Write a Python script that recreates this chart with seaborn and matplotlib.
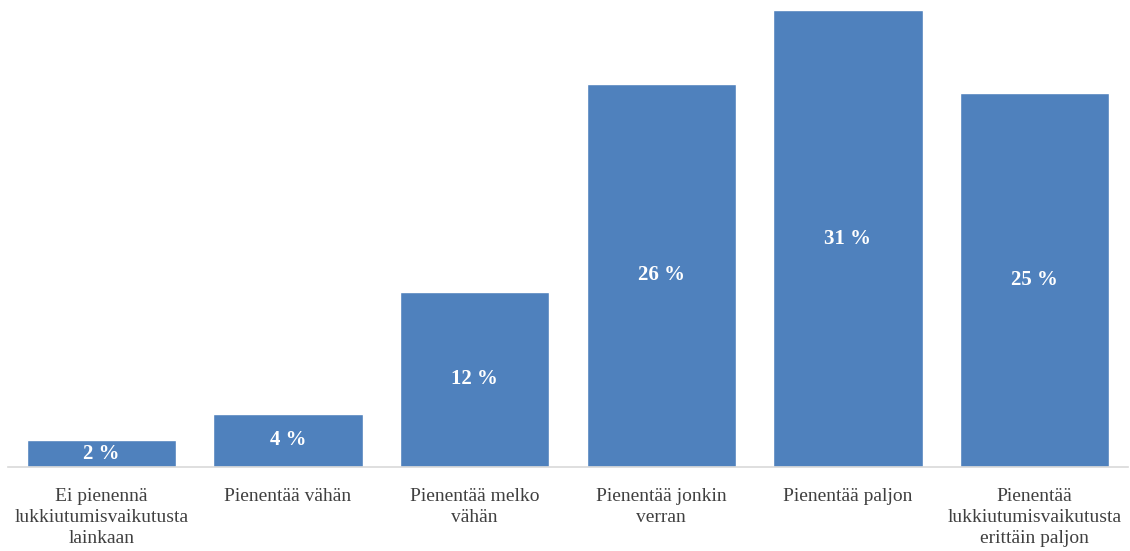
import matplotlib
matplotlib.use("Agg")
import matplotlib.pyplot as plt
import seaborn as sns
import pandas as pd

categories = [
    "Ei pienennä\nlukkiutumisvaikutusta\nlainkaan",
    "Pienentää vähän",
    "Pienentää melko\nvähän",
    "Pienentää jonkin\nverran",
    "Pienentää paljon",
    "Pienentää\nlukkiutumisvaikutusta\nerittäin paljon",
]
values = [1.8, 3.6, 11.9, 26.0, 31.0, 25.4]
labels = ["2 %", "4 %", "12 %", "26 %", "31 %", "25 %"]

sns.set_theme(style="white")
plt.rcParams["font.family"] = ["Liberation Serif", "DejaVu Serif"]

df = pd.DataFrame({"cat": categories, "val": values})

fig = plt.figure(figsize=(11.30, 5.51), dpi=100)
ax = fig.add_axes([8 / 1130, (551 - 467) / 551, 1120 / 1130, (467 - 10) / 551])
sns.barplot(data=df, x="cat", y="val", color="#4F81BD", saturation=1, width=0.8, ax=ax)
ax.set_ylim(0, 31.0)
ax.set_xlim(-0.5, 5.5)

for i, (v, lab) in enumerate(zip(values, labels)):
    ax.text(i, v / 2, lab, ha="center", va="center", color="white",
            fontsize=15, fontweight="bold")

ax.set_xlabel("")
ax.set_ylabel("")
ax.set_yticks([])
for s in ["top", "left", "right"]:
    ax.spines[s].set_visible(False)
ax.spines["bottom"].set_color("#D9D9D9")
ax.spines["bottom"].set_linewidth(1.2)
ax.tick_params(axis="x", length=0, pad=15, labelsize=14, labelcolor="#404040")
for t in ax.get_xticklabels():
    t.set_linespacing(1.3)

fig.savefig("out.png", dpi=100)
